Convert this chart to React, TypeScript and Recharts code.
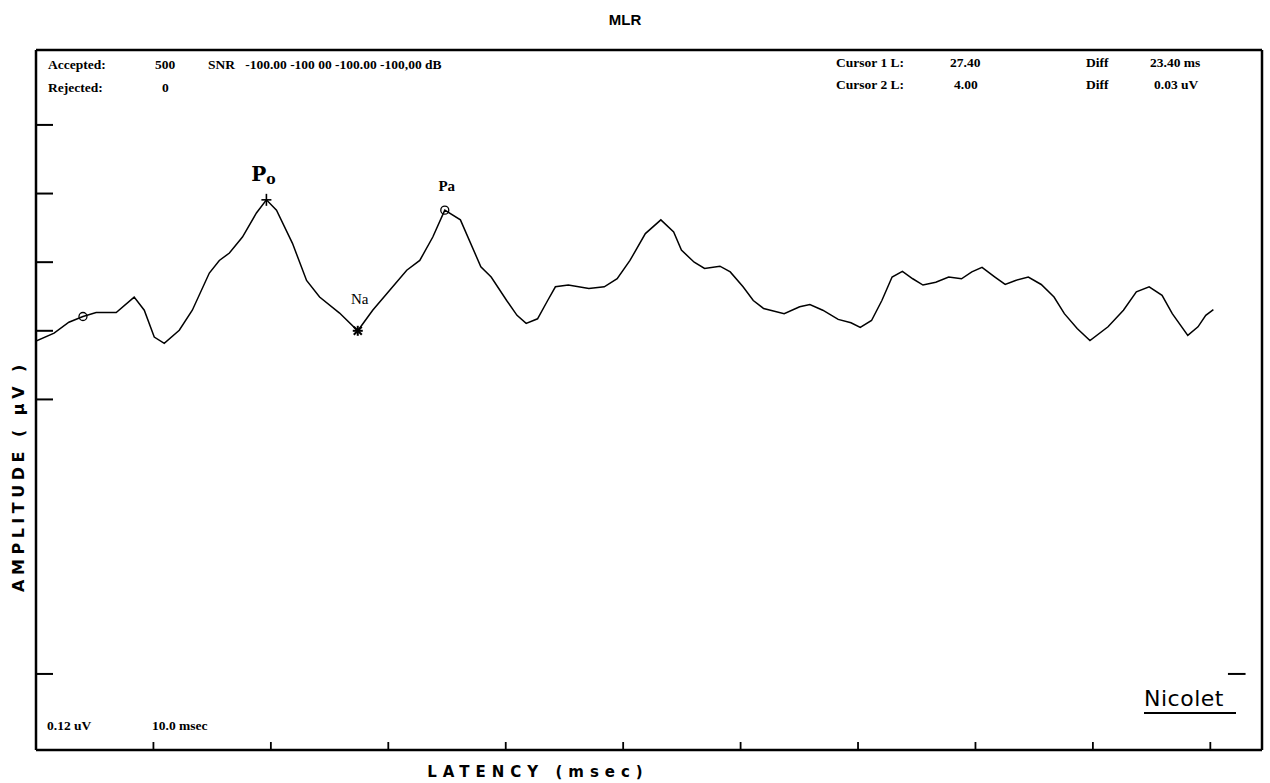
import React from 'react';
import { LineChart, Line, XAxis, YAxis, ReferenceDot, ReferenceLine } from 'recharts';

// latency in msec, amplitude in uV
const latency = [
  0, 1.54, 2.8, 4.0, 5.12, 6.83, 8.36, 9.22, 10.07, 10.92, 12.2, 13.31, 14.76, 15.61, 16.47, 17.58,
  18.77, 19.62, 20.48, 21.84, 23.04, 24.15, 25.85, 27.4, 28.67, 30.12, 31.57, 32.68, 33.79, 34.81,
  36.14, 37.88, 38.76, 40.08, 40.96, 41.74, 42.71, 43.57, 44.23, 45.33, 47.08, 48.39, 49.49, 50.58,
  51.89, 53.21, 54.3, 54.96, 56.05, 56.93, 58.24, 59.12, 60.21, 61.08, 61.96, 63.71, 65.03, 65.9,
  67.0, 68.31, 69.4, 70.19, 71.15, 72.03, 72.9, 73.78, 74.66, 75.53, 76.62, 77.72, 78.81, 79.69,
  80.56, 81.66, 82.53, 83.41, 84.5, 85.6, 86.69, 87.57, 88.66, 89.75, 91.29, 92.6, 93.7, 94.79,
  95.89, 96.76, 98.08, 98.95, 99.61, 100.26,
];
const amplitude = [
  -0.018, -0.004, 0.015, 0.025, 0.032, 0.032, 0.059, 0.036, -0.011, -0.022, 0.001, 0.036, 0.101, 0.123, 0.136, 0.164,
  0.206, 0.229, 0.211, 0.153, 0.088, 0.059, 0.031, 0.0, 0.036, 0.071, 0.106, 0.123, 0.164, 0.211,
  0.194, 0.112, 0.094, 0.053, 0.027, 0.013, 0.021, 0.053, 0.077, 0.08, 0.074, 0.077, 0.091, 0.123,
  0.17, 0.194, 0.173, 0.141, 0.12, 0.109, 0.113, 0.103, 0.077, 0.053, 0.039, 0.03, 0.042, 0.046,
  0.036, 0.02, 0.014, 0.006, 0.018, 0.053, 0.094, 0.104, 0.091, 0.08, 0.085, 0.094, 0.091, 0.103,
  0.111, 0.094, 0.081, 0.088, 0.094, 0.081, 0.059, 0.03, 0.004, -0.017, 0.007, 0.036, 0.068, 0.077,
  0.062, 0.03, -0.008, 0.007, 0.027, 0.037,
];

// cursor / peak markers
const markerLatency = [4.0, 19.62, 27.4, 34.81];
const markerAmplitude = [0.025, 0.229, 0.0, 0.211];
const markerKind = ['circle', 'plus', 'star', 'circle'];
const markerName = ['', 'Po', 'Na', 'Pa'];

const xTicks = [10, 20, 30, 40, 50, 60, 70, 80, 90, 100];
const yTicks = [0.36, 0.24, 0.12, 0, -0.12, -0.6];
const xDomain = [0, 104.4];
const yDomain = [-0.733, 0.491];

const data = latency.map((t, i) => ({ t, v: amplitude[i] }));

const headFont = '"Liberation Serif", serif';
const handFont = '"DejaVu Sans", sans-serif';

function Marker(props: any) {
  const { cx, cy, kind } = props;
  if (kind === 'circle') {
    return <circle cx={cx} cy={cy} r={4} fill="none" stroke="#000" strokeWidth={1.3} />;
  }
  if (kind === 'plus') {
    return (
      <g stroke="#000" strokeWidth={1.6}>
        <line x1={cx - 5} y1={cy} x2={cx + 5} y2={cy} />
        <line x1={cx} y1={cy - 6} x2={cx} y2={cy + 6} />
      </g>
    );
  }
  return (
    <g stroke="#000" strokeWidth={2}>
      <line x1={cx - 5} y1={cy} x2={cx + 5} y2={cy} />
      <line x1={cx} y1={cy - 5} x2={cx} y2={cy + 5} />
      <line x1={cx - 4} y1={cy - 4} x2={cx + 4} y2={cy + 4} />
      <line x1={cx - 4} y1={cy + 4} x2={cx + 4} y2={cy - 4} />
    </g>
  );
}

function PeakLabel(props: any) {
  const { viewBox, name } = props;
  if (!viewBox || !name) return null;
  const x = viewBox.x + viewBox.width / 2;
  const y = viewBox.y;
  if (name === 'Po') {
    return (
      <text x={x - 3} y={y - 14} textAnchor="middle" fontFamily='"DejaVu Serif", serif' fontWeight="bold" fontSize={20} fill="#000">
        P<tspan fontSize={14} dy={3}>o</tspan>
      </text>
    );
  }
  if (name === 'Na') {
    return (
      <text x={x + 2} y={y - 22} textAnchor="middle" fontFamily={headFont} fontSize={15} fill="#000">
        Na
      </text>
    );
  }
  return (
    <text x={x + 2} y={y - 14} textAnchor="middle" fontFamily={headFont} fontWeight="bold" fontSize={15} fill="#000">
      {name}
    </text>
  );
}

function YTitle(props: any) {
  const { viewBox } = props;
  const x = 24;
  const y = (viewBox?.y ?? 50) + 426;
  return (
    <text x={x} y={y} transform={`rotate(-90 ${x} ${y})`} textAnchor="middle" fontFamily={handFont} fontWeight="bold" fontSize={16} letterSpacing={4.5} fill="#000">
      AMPLITUDE ( µV )
    </text>
  );
}

function XTitle(props: any) {
  const { viewBox } = props;
  return (
    <text x={538} y={(viewBox?.y ?? 749) + 28} textAnchor="middle" fontFamily={handFont} fontWeight="bold" fontSize={15} letterSpacing={6} fill="#000">
      LATENCY (msec)
    </text>
  );
}

const noLabel = () => '';

const txt = (x: number, y: number, s: string, extra: React.CSSProperties = {}) => (
  <span style={{ position: 'absolute', left: x, top: y, fontFamily: headFont, fontSize: 13.5, fontWeight: 'bold', whiteSpace: 'pre', lineHeight: '14px', ...extra }}>{s}</span>
);

export default function App() {
  return (
    <div style={{ position: 'absolute', left: 0, top: 0, width: 1270, height: 783, background: '#fff' }}>
      <LineChart width={1270} height={783} data={data} margin={{ top: 49, right: 7, bottom: 33, left: 36 }}>
        <XAxis
          dataKey="t"
          type="number"
          domain={xDomain}
          ticks={xTicks}
          allowDataOverflow
          height={1}
          mirror
          tickFormatter={noLabel}
          tickSize={8}
          axisLine={{ stroke: '#000', strokeWidth: 2.5 }}
          tickLine={{ stroke: '#000', strokeWidth: 1.8 }}
          label={<XTitle />}
        />
        <XAxis xAxisId="top" dataKey="t" type="number" domain={xDomain} ticks={xTicks} orientation="top" height={1} tick={false} tickLine={false} axisLine={{ stroke: '#000', strokeWidth: 2.5 }} />
        <YAxis
          type="number"
          domain={yDomain}
          ticks={yTicks}
          allowDataOverflow
          width={1}
          mirror
          tickFormatter={noLabel}
          tickSize={17}
          axisLine={{ stroke: '#000', strokeWidth: 2.5 }}
          tickLine={{ stroke: '#000', strokeWidth: 2 }}
          label={<YTitle />}
        />
        <YAxis yAxisId="right" orientation="right" type="number" domain={yDomain} ticks={yTicks} width={1} tick={false} tickLine={false} axisLine={{ stroke: '#000', strokeWidth: 2.5 }} />
        <ReferenceLine segment={[{ x: 101.5, y: -0.6 }, { x: 103.0, y: -0.6 }]} stroke="#000" strokeWidth={2} />
        <Line dataKey="v" type="linear" stroke="#000" strokeWidth={1.5} dot={false} isAnimationActive={false} />
        {markerLatency.map((t, i) => (
          <ReferenceDot
            key={i}
            x={t}
            y={markerAmplitude[i]}
            r={5}
            shape={(p: any) => <Marker {...p} kind={markerKind[i]} />}
            label={<PeakLabel name={markerName[i]} />}
          />
        ))}
      </LineChart>

      <span style={{ position: 'absolute', left: 0, width: 1250, top: 11, textAlign: 'center', fontFamily: '"Liberation Sans", sans-serif', fontWeight: 'bold', fontSize: 15 }}>MLR</span>

      {txt(48, 58, 'Accepted:')}
      {txt(155, 58, '500')}
      {txt(208, 58, 'SNR   -100.00 -100 00 -100.00 -100,00 dB')}
      {txt(48, 81, 'Rejected:')}
      {txt(162, 81, '0')}

      {txt(836, 56, 'Cursor 1 L:')}
      {txt(950, 56, '27.40')}
      {txt(1086, 56, 'Diff')}
      {txt(1150, 56, '23.40 ms')}
      {txt(836, 78, 'Cursor 2 L:')}
      {txt(954, 78, '4.00')}
      {txt(1086, 78, 'Diff')}
      {txt(1154, 78, '0.03 uV')}

      {txt(47, 719, '0.12 uV')}
      {txt(152, 719, '10.0 msec')}

      <span style={{ position: 'absolute', left: 1144, top: 686, fontFamily: handFont, fontSize: 22, letterSpacing: 0.5, borderBottom: '2.5px solid #000', paddingRight: 12, lineHeight: '26px' }}>Nicolet</span>
    </div>
  );
}
